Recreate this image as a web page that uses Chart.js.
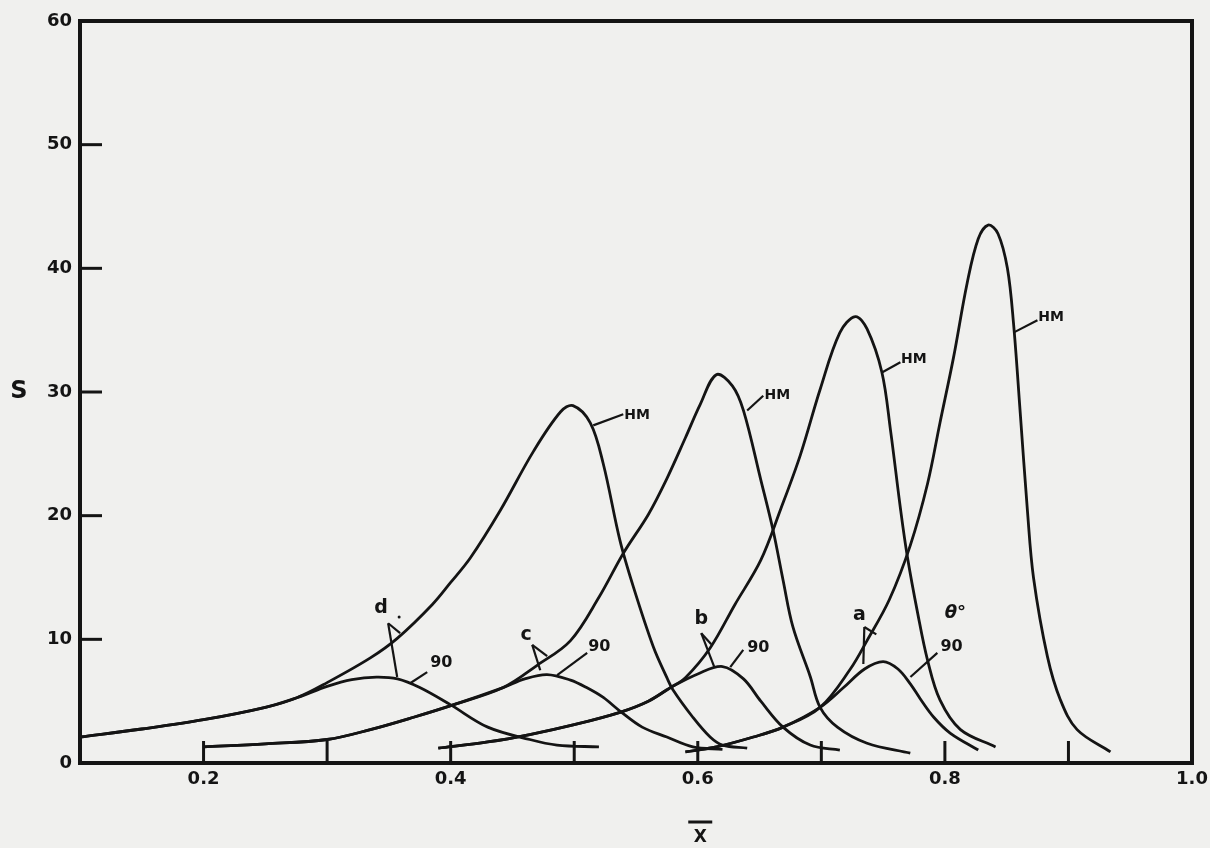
<!DOCTYPE html>
<html>
<head>
<meta charset="utf-8">
<script src="https://cdn.jsdelivr.net/npm/chart.js@4.4.0/dist/chart.umd.min.js"></script>
<style>
  html, body { margin: 0; padding: 0; background: #f0f0ee; }
  #wrap { width: 1210px; height: 848px; }
</style>
</head>
<body>
<div id="wrap"><canvas id="sChart"></canvas></div>
<script>
// values: x-bar and S for every curve
const dHmX = [0.10, 0.15, 0.20, 0.25, 0.276, 0.30, 0.335, 0.357, 0.385, 0.40, 0.416, 0.44, 0.467, 0.489, 0.499, 0.513, 0.5235, 0.537, 0.548, 0.564, 0.575, 0.58, 0.596, 0.61, 0.62, 0.64];
const dHmS = [2.1, 2.75, 3.5, 4.5, 5.3, 6.5, 8.5, 10.1, 12.8, 14.6, 16.6, 20.4, 25.2, 28.4, 28.9, 27.5, 24.2, 18.0, 14.2, 9.4, 6.9, 5.9, 3.7, 2.1, 1.45, 1.2];
const d90X = [0.10, 0.15, 0.20, 0.25, 0.276, 0.30, 0.32, 0.34, 0.357, 0.375, 0.40, 0.43, 0.464, 0.486, 0.52];
const d90S = [2.1, 2.75, 3.5, 4.5, 5.3, 6.2, 6.75, 6.95, 6.8, 6.1, 4.7, 2.9, 1.9, 1.45, 1.3];

const cHmX = [0.20, 0.25, 0.30, 0.335, 0.37, 0.402, 0.4425, 0.47, 0.497, 0.52, 0.54, 0.56, 0.575, 0.59, 0.602, 0.615, 0.628, 0.637, 0.651, 0.661, 0.669, 0.677, 0.691, 0.699, 0.713, 0.737, 0.772];
const cHmS = [1.3, 1.55, 1.9, 2.7, 3.7, 4.7, 6.1, 7.9, 9.9, 13.4, 17.0, 20.1, 23.0, 26.3, 29.0, 31.4, 30.5, 28.5, 22.9, 18.8, 14.8, 11.0, 7.0, 4.5, 2.9, 1.6, 0.8];
const c90X = [0.20, 0.25, 0.30, 0.335, 0.37, 0.402, 0.4425, 0.46, 0.478, 0.497, 0.51, 0.5235, 0.537, 0.555, 0.575, 0.596, 0.62];
const c90S = [1.3, 1.55, 1.9, 2.7, 3.7, 4.7, 6.1, 6.8, 7.15, 6.7, 6.1, 5.3, 4.2, 2.9, 2.1, 1.3, 1.1];

const bHmX = [0.39, 0.43, 0.464, 0.50, 0.537, 0.56, 0.578, 0.59, 0.61, 0.63, 0.651, 0.667, 0.683, 0.699, 0.715, 0.7275, 0.737, 0.749, 0.756, 0.764, 0.7696, 0.778, 0.786, 0.796, 0.8126, 0.841];
const bHmS = [1.2, 1.7, 2.3, 3.1, 4.1, 5.0, 6.1, 6.9, 9.3, 12.8, 16.4, 20.5, 24.9, 30.2, 34.8, 36.1, 35.1, 31.6, 26.9, 20.6, 16.7, 12.1, 8.3, 5.1, 2.7, 1.3];
const b90X = [0.39, 0.43, 0.464, 0.50, 0.537, 0.56, 0.578, 0.60, 0.62, 0.637, 0.651, 0.669, 0.691, 0.715];
const b90S = [1.2, 1.7, 2.3, 3.1, 4.1, 5.0, 6.1, 7.2, 7.8, 6.8, 5.0, 2.9, 1.45, 1.05];

const aHmX = [0.59, 0.615, 0.645, 0.669, 0.699, 0.7235, 0.737, 0.755, 0.772, 0.786, 0.796, 0.807, 0.818, 0.827, 0.835, 0.843, 0.8506, 0.8555, 0.861, 0.8668, 0.8717, 0.883, 0.8935, 0.907, 0.934];
const aHmS = [0.9, 1.3, 2.1, 2.9, 4.5, 7.6, 9.9, 13.2, 17.6, 22.6, 27.5, 32.8, 38.8, 42.4, 43.5, 42.8, 40.0, 35.6, 28.3, 20.4, 15.0, 8.6, 5.1, 2.7, 0.9];
const a90X = [0.59, 0.615, 0.645, 0.669, 0.699, 0.718, 0.735, 0.75, 0.762, 0.772, 0.78, 0.791, 0.8045, 0.827];
const a90S = [0.9, 1.3, 2.1, 2.9, 4.5, 6.1, 7.6, 8.2, 7.6, 6.4, 5.2, 3.7, 2.4, 1.05];

const xTickValues = [0.2, 0.4, 0.6, 0.8, 1.0];
const xTickLabels = ['0.2', '0.4', '0.6', '0.8', '1.0'];
const yTickValues = [0, 10, 20, 30, 40, 50, 60];
const yTickLabels = ['0', '10', '20', '30', '40', '50', '60'];
const xMarks = [0.2, 0.3, 0.4, 0.5, 0.6, 0.7, 0.8, 0.9];
const yMarks = [10, 20, 30, 40, 50];

// curve labels, in data units (x-bar, S)
const curveNotes = [
  { text: 'HM', x: 0.5405, s: 28.1, kind: 'hm' },
  { text: 'HM', x: 0.654, s: 29.7, kind: 'hm' },
  { text: 'HM', x: 0.7645, s: 32.6, kind: 'hm' },
  { text: 'HM', x: 0.8755, s: 36.0, kind: 'hm' },
  { text: '90', x: 0.3834, s: 8.1, kind: 'ninety' },
  { text: '90', x: 0.5113, s: 9.4, kind: 'ninety' },
  { text: '90', x: 0.640, s: 9.3, kind: 'ninety' },
  { text: '90', x: 0.7964, s: 9.4, kind: 'ninety' },
  { text: 'd', x: 0.3437, s: 12.5, kind: 'letter' },
  { text: 'c', x: 0.4611, s: 10.35, kind: 'letter' },
  { text: 'b', x: 0.6028, s: 11.6, kind: 'letter' },
  { text: 'a', x: 0.7308, s: 12.0, kind: 'letter' },
  { text: 'θ°', x: 0.8085, s: 12.1, kind: 'theta' }
];
const leaderLines = [
  [0.5154, 27.3, 0.5397, 28.2], [0.640, 28.5, 0.653, 29.7], [0.7494, 31.6, 0.764, 32.4], [0.8555, 34.8, 0.8749, 35.8],
  [0.3672, 6.45, 0.381, 7.35], [0.4862, 7.1, 0.5105, 8.9], [0.6263, 7.75, 0.6368, 9.15], [0.7721, 6.95, 0.7939, 8.9],
  [0.3494, 11.3, 0.3567, 6.95], [0.3494, 11.3, 0.3591, 10.5],
  [0.466, 9.55, 0.4725, 7.5], [0.466, 9.55, 0.4781, 8.65],
  [0.6028, 10.5, 0.6134, 7.75], [0.6028, 10.5, 0.6109, 9.6],
  [0.7348, 11.0, 0.734, 8.0], [0.7348, 11.0, 0.7445, 10.4]
];

const ink = '#141414';
const fontFace = '"DejaVu Sans", "Liberation Sans", sans-serif';
const noteFonts = {
  hm: 'bold 14px ' + fontFace,
  ninety: 'bold 16px ' + fontFace,
  letter: 'bold 19px ' + fontFace,
  theta: 'italic bold 18px ' + fontFace
};

function curve(label, xs, ys) {
  return {
    label: label,
    data: xs.map((x, i) => ({ x: x, y: ys[i] })),
    showLine: true,
    borderColor: ink,
    borderWidth: 2.8,
    pointRadius: 0,
    fill: false,
    tension: 0.35
  };
}

const paperPlugin = {
  id: 'paper',
  beforeDraw(chart) {
    const c = chart.ctx;
    c.save();
    c.fillStyle = '#f0f0ee';
    c.fillRect(0, 0, chart.width, chart.height);
    c.restore();
  },
  afterDraw(chart) {
    const c = chart.ctx, a = chart.chartArea;
    const xs = chart.scales.x, ys = chart.scales.y;
    const px = v => xs.getPixelForValue(v), py = v => ys.getPixelForValue(v);
    c.save();
    c.strokeStyle = ink;
    c.fillStyle = ink;

    // heavy frame
    c.lineWidth = 4;
    c.strokeRect(a.left, a.top, a.right - a.left, a.bottom - a.top);

    // ticks point into the plot
    c.lineWidth = 3;
    xMarks.forEach(v => {
      c.beginPath(); c.moveTo(px(v), a.bottom); c.lineTo(px(v), a.bottom - 22); c.stroke();
    });
    yMarks.forEach(v => {
      c.beginPath(); c.moveTo(a.left, py(v)); c.lineTo(a.left + 22, py(v)); c.stroke();
    });

    // leader lines
    c.lineWidth = 2.2;
    leaderLines.forEach(([x1, s1, x2, s2]) => {
      c.beginPath(); c.moveTo(px(x1), py(s1)); c.lineTo(px(x2), py(s2)); c.stroke();
    });

    // curve labels
    c.textBaseline = 'middle';
    curveNotes.forEach(n => {
      c.font = noteFonts[n.kind];
      c.textAlign = (n.kind === 'hm' || n.kind === 'ninety') ? 'left' : 'center';
      c.fillText(n.text, px(n.x), py(n.s));
    });
    // the little speck next to d
    c.beginPath(); c.arc(px(0.3583), py(11.8), 1.5, 0, Math.PI * 2); c.fill();

    // axis titles
    c.font = 'bold 24px ' + fontFace;
    c.textAlign = 'center';
    c.fillText('S', 19, py(30));
    const tx = px(0.602);
    c.lineWidth = 3;
    c.beginPath(); c.moveTo(tx - 12, 822); c.lineTo(tx + 12, 822); c.stroke();
    c.font = 'bold 17px ' + fontFace;
    c.fillText('X', tx, 838);
    c.restore();
  }
};

new Chart(document.getElementById('sChart').getContext('2d'), {
  type: 'scatter',
  data: {
    datasets: [
      curve('d HM', dHmX, dHmS), curve('d 90', d90X, d90S),
      curve('c HM', cHmX, cHmS), curve('c 90', c90X, c90S),
      curve('b HM', bHmX, bHmS), curve('b 90', b90X, b90S),
      curve('a HM', aHmX, aHmS), curve('a 90', a90X, a90S)
    ]
  },
  options: {
    responsive: true,
    maintainAspectRatio: false,
    animation: false,
    layout: { padding: { left: 0, top: 21, right: 18, bottom: 0 } },
    plugins: { legend: { display: false }, tooltip: { enabled: false } },
    scales: {
      x: {
        type: 'linear', min: 0.1, max: 1.0,
        grid: { display: false, drawTicks: false },
        border: { display: false },
        afterBuildTicks: s => { s.ticks = xTickValues.map(v => ({ value: v })); },
        afterFit: s => { s.height = 85; s.paddingLeft = 0; s.paddingRight = 0; },
        ticks: {
          autoSkip: false, maxRotation: 0, padding: 6, color: ink,
          font: { family: fontFace, weight: 'bold', size: 18 },
          callback: (v, i) => xTickLabels[i]
        }
      },
      y: {
        type: 'linear', min: 0, max: 60,
        grid: { display: false, drawTicks: false },
        border: { display: false },
        afterBuildTicks: s => { s.ticks = yTickValues.map(v => ({ value: v })); },
        afterFit: s => { s.width = 80; s.paddingTop = 0; s.paddingBottom = 0; },
        ticks: {
          autoSkip: false, padding: 8, color: ink,
          font: { family: fontFace, weight: 'bold', size: 18 },
          callback: (v, i) => yTickLabels[i]
        }
      }
    }
  },
  plugins: [paperPlugin]
});
</script>
</body>
</html>
